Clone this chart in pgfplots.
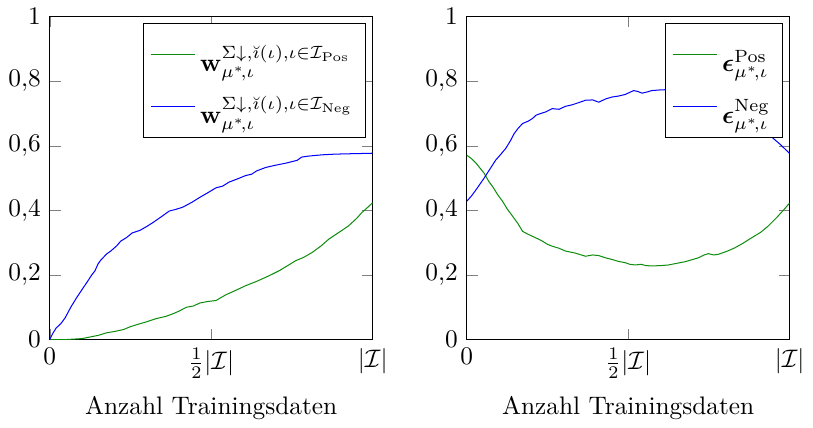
\documentclass[border=0pt]{standalone}
\usepackage{amsmath,amssymb,bm}
\usepackage{pgfplots}
\pgfplotsset{compat=1.18}
\definecolor{dgreen}{rgb}{0.05,0.55,0.05}
\newcommand{\legsub}{{\mu^{*}\!,\iota}}
\newcommand{\legstrut}{\rule[-9pt]{0pt}{24pt}}
\pgfplotsset{
  myax/.style={
    scale only axis, width=127.5pt, height=127.5pt,
    xmin=0, xmax=1, ymin=0, ymax=1,
    xtick={0,0.5,1},
    xticklabels={$0$, $\frac{1}{2}|\mathcal{I}|$, $|\mathcal{I}|$},
    ytick={0,0.2,0.4,0.6,0.8,1},
    /pgf/number format/use comma,
    xlabel={Anzahl Trainingsdaten},
    legend cell align=left,
    legend style={at={(0.98,0.98)}, anchor=north east, fill=white, draw=black},
  }
}
\begin{document}
\begin{tikzpicture}
\begin{axis}[myax]
\addplot[dgreen] coordinates {
(0,0) (0.05,0.0) (0.1,0.003) (0.125,0.008) (0.15,0.013) (0.176,0.021) (0.2,0.025)
(0.228,0.031) (0.25,0.04) (0.279,0.049) (0.3,0.055) (0.33,0.065) (0.36,0.072)
(0.382,0.08) (0.4,0.088) (0.423,0.1) (0.445,0.104) (0.464,0.113) (0.49,0.118)
(0.515,0.121) (0.53,0.13) (0.546,0.139) (0.575,0.152) (0.607,0.167) (0.64,0.18)
(0.669,0.193) (0.69,0.203) (0.71,0.213) (0.735,0.228) (0.761,0.244) (0.785,0.254)
(0.813,0.27) (0.84,0.29) (0.864,0.311) (0.9,0.335) (0.925,0.352) (0.95,0.375)
(0.966,0.393) (0.985,0.41) (1,0.424)
};
\addlegendentry{\legstrut$\mathbf{w}^{\Sigma\downarrow,\breve{\imath}(\iota),\iota\in\mathcal{I}_{\mathrm{Pos}}}_{\legsub}$}
\addplot[blue] coordinates {
(0,0) (0.01,0.02) (0.02,0.036) (0.035,0.05) (0.048,0.068) (0.065,0.1) (0.084,0.131)
(0.1,0.155) (0.115,0.177) (0.13,0.2) (0.14,0.213) (0.15,0.235) (0.158,0.246)
(0.176,0.265) (0.19,0.275) (0.207,0.29) (0.22,0.305) (0.238,0.316) (0.255,0.33)
(0.279,0.338) (0.3,0.35) (0.319,0.362) (0.345,0.38) (0.37,0.398) (0.39,0.403)
(0.412,0.41) (0.44,0.425) (0.464,0.44) (0.49,0.455) (0.515,0.47) (0.535,0.475)
(0.556,0.488) (0.58,0.497) (0.607,0.508) (0.625,0.512) (0.64,0.522) (0.669,0.533)
(0.7,0.54) (0.73,0.546) (0.766,0.555) (0.78,0.565) (0.8,0.568) (0.843,0.572)
(0.88,0.574) (0.915,0.575) (0.96,0.576) (1,0.577)
};
\addlegendentry{\legstrut$\mathbf{w}^{\Sigma\downarrow,\breve{\imath}(\iota),\iota\in\mathcal{I}_{\mathrm{Neg}}}_{\legsub}$}
\end{axis}
\begin{axis}[myax, at={(164.6pt,0)}]
\addplot[dgreen] coordinates {
(0,0.571) (0.015,0.56) (0.029,0.546) (0.054,0.515) (0.068,0.49) (0.08,0.474)
(0.095,0.45) (0.111,0.428) (0.125,0.405) (0.142,0.382) (0.158,0.36) (0.173,0.335)
(0.19,0.326) (0.203,0.32) (0.22,0.312) (0.234,0.305) (0.25,0.295) (0.265,0.289)
(0.285,0.283) (0.306,0.274) (0.335,0.268) (0.368,0.258) (0.39,0.262) (0.409,0.26)
(0.43,0.253) (0.45,0.248) (0.47,0.242) (0.491,0.238) (0.505,0.233) (0.522,0.231)
(0.54,0.233) (0.555,0.229) (0.573,0.228) (0.6,0.229) (0.625,0.231) (0.65,0.236)
(0.676,0.241) (0.7,0.248) (0.717,0.253) (0.735,0.262) (0.748,0.266) (0.765,0.262)
(0.779,0.264) (0.805,0.273) (0.83,0.284) (0.855,0.298) (0.882,0.315) (0.91,0.332)
(0.933,0.351) (0.96,0.378) (0.98,0.4) (1,0.423)
};
\addlegendentry{\legstrut$\boldsymbol{\epsilon}^{\mathrm{Pos}}_{\legsub}$}
\addplot[blue] coordinates {
(0,0.428) (0.015,0.445) (0.029,0.464) (0.054,0.5) (0.07,0.525) (0.09,0.556)
(0.105,0.573) (0.121,0.592) (0.135,0.615) (0.147,0.638) (0.16,0.655) (0.173,0.669)
(0.19,0.676) (0.203,0.684) (0.215,0.695) (0.229,0.7) (0.245,0.705) (0.265,0.715)
(0.286,0.713) (0.305,0.722) (0.327,0.727) (0.345,0.733) (0.368,0.741) (0.39,0.742)
(0.409,0.735) (0.43,0.745) (0.45,0.751) (0.47,0.754) (0.491,0.759) (0.517,0.771)
(0.53,0.768) (0.543,0.763) (0.56,0.767) (0.573,0.771) (0.6,0.773) (0.65,0.775)
(0.7,0.775) (0.75,0.772) (0.8,0.765) (0.85,0.745) (0.9,0.7) (0.943,0.628)
(0.97,0.605) (1,0.576)
};
\addlegendentry{\legstrut$\boldsymbol{\epsilon}^{\mathrm{Neg}}_{\legsub}$}
\end{axis}
\end{tikzpicture}
\end{document}
